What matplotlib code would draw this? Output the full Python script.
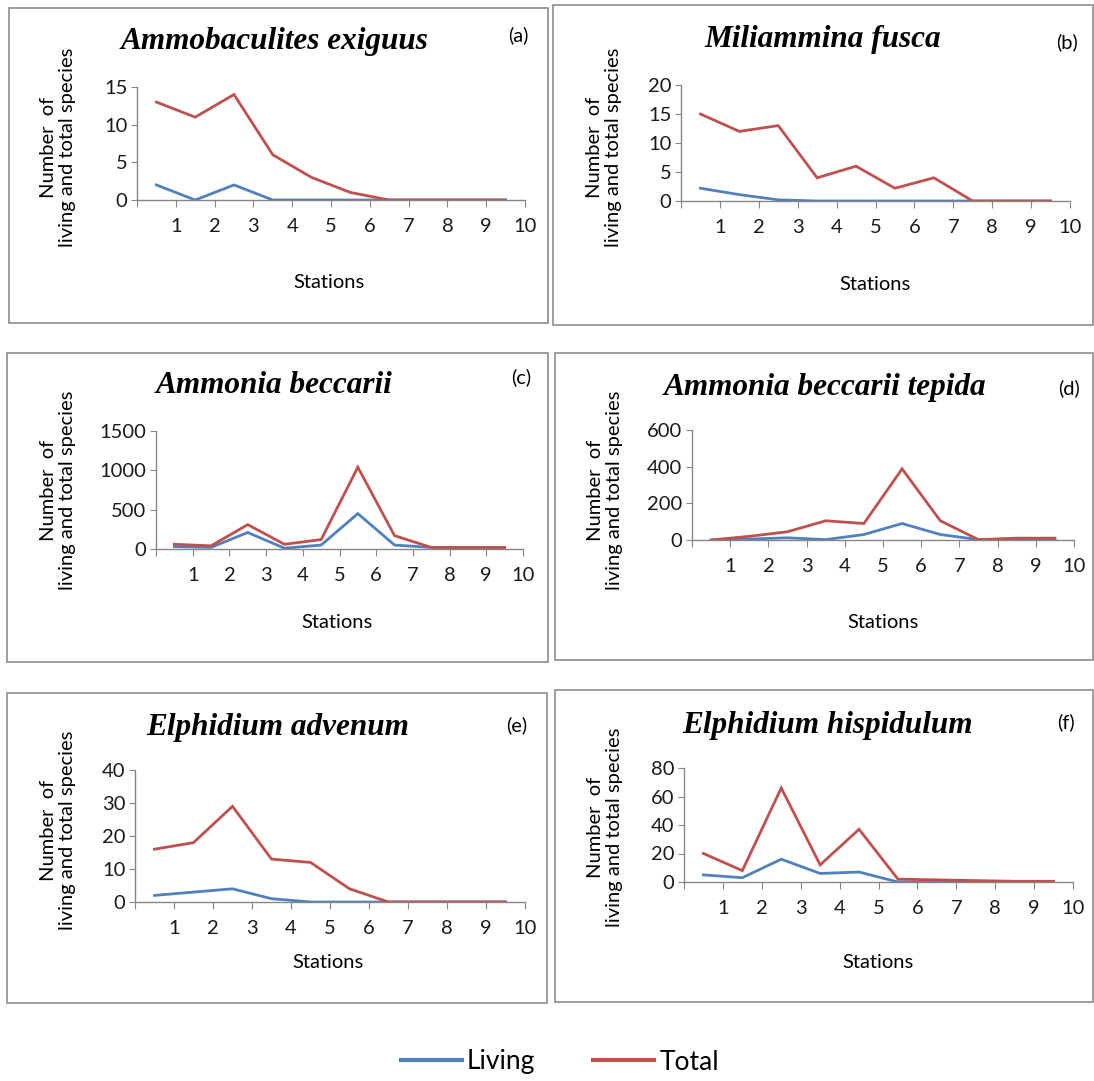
import numpy as np
import matplotlib
matplotlib.use("Agg")
import matplotlib.pyplot as plt
from matplotlib.patches import Rectangle

W, H = 1094, 1081

stations = np.arange(1, 11)
tick_labels = ["", "1", "2", "3", "4", "5", "6", "7", "8", "9", "10"]

# panel data
titles = ["Ammobaculites exiguus", "Miliammina fusca", "Ammonia beccarii",
          "Ammonia beccarii tepida", "Elphidium advenum", "Elphidium hispidulum"]
letters = ["(a)", "(b)", "(c)", "(d)", "(e)", "(f)"]
ymax = [15, 20, 1500, 600, 40, 80]
ystep = [5, 5, 500, 200, 10, 20]

living_a = [2, 0, 2, 0, 0, 0, 0, 0, 0, 0]
total_a = [13, 11, 14, 6, 3, 1, 0, 0, 0, 0]
living_b = [2.2, 1.1, 0.2, 0, 0, 0, 0, 0, 0, 0]
total_b = [15, 12, 13, 4, 6, 2.2, 4, 0, 0, 0]
living_c = [30, 20, 210, 10, 50, 450, 50, 20, 10, 10]
total_c = [60, 40, 310, 60, 120, 1040, 170, 20, 20, 20]
living_d = [0, 5, 12, 2, 30, 90, 30, 2, 5, 5]
total_d = [0, 20, 45, 105, 90, 388, 105, 2, 10, 10]
living_e = [2, 3, 4, 1, 0, 0, 0, 0, 0, 0]
total_e = [16, 18, 29, 13, 12, 4, 0, 0, 0, 0]
living_f = [5, 3, 16, 6, 7, 0, 0, 0, 0, 0]
total_f = [20, 8, 66, 12, 37, 2, 1.5, 1, 0.5, 0.5]

living = [living_a, living_b, living_c, living_d, living_e, living_f]
total = [total_a, total_b, total_c, total_d, total_e, total_f]

# layout in pixels: axes (left, top, right, bottom), frame, title, letter, ylabel, xlabel
axes_px = [(137, 87, 525, 200), (681, 85, 1070, 201), (156, 431, 523, 549),
           (692, 430, 1074, 540), (135, 770, 525, 902), (684, 768, 1073, 882)]
frames_px = [(9, 8, 548, 323), (553, 5, 1093, 325), (7, 353, 548, 662),
             (555, 353, 1093, 660), (7, 693, 547, 1003), (555, 690, 1093, 1002)]
title_px = [(275, 42), (823, 40), (274, 385), (825, 387), (278, 727), (827, 725)]
letter_px = [(518, 35), (1067, 42), (521, 377), (1069, 388), (517, 725), (1066, 722)]
ylab_px = [(58, 147), (604, 147), (58, 490), (605, 490), (58, 830), (605, 827)]
xlab_px = [(329, 283), (875, 285), (337, 623), (883, 622), (328, 963), (878, 963)]

blue = "#4F81BD"
red = "#C0504D"
axis_grey = "#868686"
sans = "Lato"
serif = "Liberation Serif"

fig = plt.figure(figsize=(W / 100, H / 100), dpi=100)


def fx(x):
    return x / W


def fy(y):
    return 1 - y / H


for i in range(6):
    x0, y0, x1, y1 = frames_px[i]
    fig.patches.append(Rectangle((fx(x0), fy(y1)), fx(x1 - x0), (y1 - y0) / H,
                                 transform=fig.transFigure, fill=False,
                                 edgecolor="#8c8c8c", linewidth=1.2))

    l, t, r, b = axes_px[i]
    ax = fig.add_axes([fx(l), fy(b), fx(r - l), (b - t) / H])
    ax.plot(stations - 0.5, living[i], color=blue, linewidth=2.0, solid_joinstyle="miter")
    ax.plot(stations - 0.5, total[i], color=red, linewidth=2.0, solid_joinstyle="miter")
    ax.set_xlim(0, 10)
    ax.set_ylim(0, ymax[i])
    ax.set_xticks(np.arange(0, 11))
    ax.set_xticklabels(tick_labels)
    ax.set_yticks(np.arange(0, ymax[i] + 1, ystep[i]))
    for s in ["top", "right"]:
        ax.spines[s].set_visible(False)
    for s in ["left", "bottom"]:
        ax.spines[s].set_color(axis_grey)
        ax.spines[s].set_linewidth(1.0)
    ax.tick_params(axis="x", length=5, color=axis_grey, pad=8, labelsize=14.5)
    ax.tick_params(axis="y", length=4, color=axis_grey, pad=3, labelsize=14.5)
    for lab in ax.get_xticklabels() + ax.get_yticklabels():
        lab.set_fontfamily(sans)
        lab.set_color("#1a1a1a")
    ax.patch.set_alpha(0)

    fig.text(fx(title_px[i][0]), fy(title_px[i][1]), titles[i], family=serif,
             fontsize=22.5, fontweight="bold", fontstyle="italic", ha="center", va="center")
    fig.text(fx(letter_px[i][0]), fy(letter_px[i][1]), letters[i], family=sans,
             fontsize=14.5, ha="center", va="center")
    fig.text(fx(ylab_px[i][0]), fy(ylab_px[i][1]), "Number  of\nliving and total species",
             family=sans, fontsize=14.5, rotation=90, ha="center", va="center",
             multialignment="center", linespacing=1.2)
    fig.text(fx(xlab_px[i][0]), fy(xlab_px[i][1]), "Stations", family=sans,
             fontsize=14.5, ha="center", va="center")

h_living = plt.Line2D([], [], color=blue, linewidth=3)
h_total = plt.Line2D([], [], color=red, linewidth=3)
leg = fig.legend([h_living, h_total], ["Living", "Total"], loc="center",
                 bbox_to_anchor=(fx(560), fy(1062)), ncol=2, frameon=False,
                 handlelength=2.3, handletextpad=0.2, columnspacing=2.2,
                 prop={"family": sans, "size": 19})

fig.savefig("out.png", dpi=100)
